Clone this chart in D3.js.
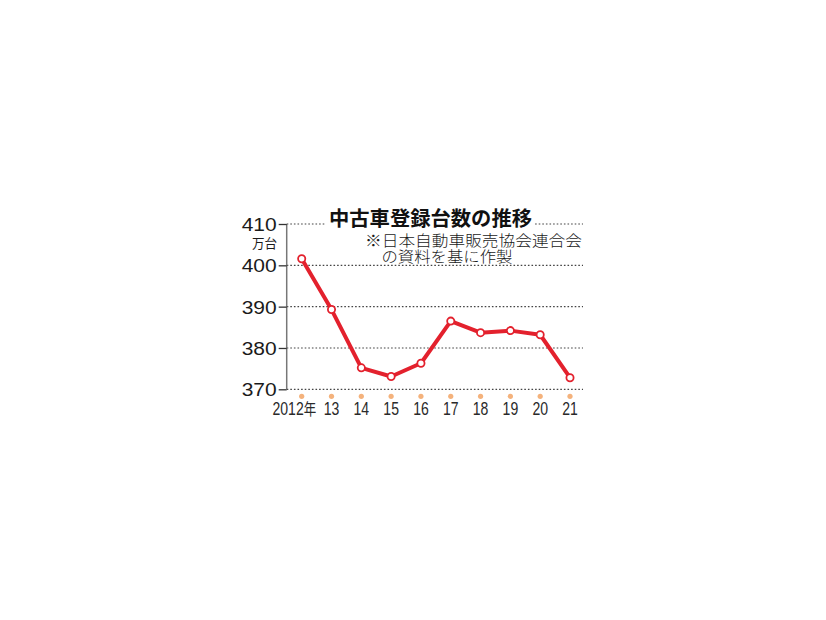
<!DOCTYPE html>
<html><head><meta charset="utf-8">
<script src="https://cdn.jsdelivr.net/npm/d3@7"></script>
<style>body{margin:0;background:#fff;}svg{display:block;}</style>
</head><body>
<svg id="c" width="826" height="620"></svg>
<script>
const years = ["2012年","13","14","15","16","17","18","19","20","21"];
const values = [401.6, 389.3, 375.2, 373.1, 376.3, 386.5, 383.7, 384.2, 383.2, 372.8];
const yTicks = [370, 380, 390, 400, 410];
const titleText = "中古車登録台数の推移";
const unitText = "万台";
const noteLines = ["※日本自動車販売協会連合会", "の資料を基に作製"];

const svg = d3.select("#c");
const x = d3.scalePoint().domain(years).range([301.7, 570]);
const y = d3.scaleLinear().domain([370, 410]).range([389.3, 224]);
const gridRight = 583, axisX = 286.7;

// gridlines
svg.append("g").selectAll("line").data(yTicks).join("line")
  .attr("x1", axisX).attr("x2", gridRight)
  .attr("y1", d => y(d)).attr("y2", d => y(d))
  .attr("stroke", "#444").attr("stroke-width", 1.2).attr("stroke-dasharray", "1.6,2");

// y axis
const yAxis = d3.axisLeft(y).tickValues(yTicks).tickSize(8).tickPadding(2).tickFormat(d3.format("d"));
const ga = svg.append("g").attr("transform", `translate(${axisX},0)`).call(yAxis);
ga.select(".domain").attr("stroke", "#777").attr("stroke-width", 1.5).attr("d", `M0,${y(410)}V${y(370)}`);
ga.selectAll(".tick line").attr("stroke", "#333").attr("stroke-width", 1.3);
ga.selectAll(".tick text").attr("fill", "#1a1a1a")
  .style("font-family", "'Liberation Sans', Arial, sans-serif").style("font-size", "18px")
  .attr("textLength", 35).attr("lengthAdjust", "spacingAndGlyphs").attr("dy", "0.36em");

// unit
svg.append("text").attr("x", 277).attr("y", 248).attr("text-anchor", "end")
  .attr("textLength", 25).attr("lengthAdjust", "spacingAndGlyphs")
  .style("font-family", "'Noto Sans CJK JP', sans-serif").style("font-size", "13px").attr("fill", "#1a1a1a")
  .text(unitText);

// x axis orange dots
svg.append("g").selectAll("circle").data(years).join("circle")
  .attr("cx", d => x(d)).attr("cy", 396.3).attr("r", 2.6).attr("fill", "#f4b27c");

// x labels: one text per year, digits + optional 年 suffix as tspans, condensed horizontally
const xt = svg.append("g").selectAll("text").data(years).join("text")
  .attr("transform", d => `translate(${x(d) + (d.endsWith("年") ? 14.5 : 0)},414.5) scale(0.78,1)`)
  .attr("text-anchor", d => d.endsWith("年") ? "end" : "middle")
  .style("font-family", "'Liberation Sans', Arial, sans-serif").style("font-size", "18px")
  .attr("fill", "#2a2a2a");
xt.append("tspan").text(d => d.replace("年", ""));
xt.filter(d => d.endsWith("年")).append("tspan")
  .style("font-family", "'Noto Sans CJK JP', sans-serif").style("font-size", "16px").text("年");

// line
const line = d3.line().x((d, i) => x(years[i])).y(d => y(d));
svg.append("path").datum(values).attr("d", line)
  .attr("fill", "none").attr("stroke", "#e3212d").attr("stroke-width", 4).attr("stroke-linejoin", "round");

svg.append("g").selectAll("circle").data(values).join("circle")
  .attr("cx", (d, i) => x(years[i])).attr("cy", d => y(d)).attr("r", 3.6)
  .attr("fill", "#fff").attr("stroke", "#e3212d").attr("stroke-width", 1.8);

// title with white background
svg.append("rect").attr("x", 326).attr("y", 206).attr("width", 209).attr("height", 24).attr("fill", "#fff");
svg.append("text").attr("x", 329).attr("y", 225.5)
  .attr("textLength", 203).attr("lengthAdjust", "spacingAndGlyphs")
  .style("font-family", "'Noto Sans CJK JP', sans-serif").style("font-size", "20px").style("font-weight", "bold")
  .attr("fill", "#111").text(titleText);

// note
svg.append("text").attr("x", 365).attr("y", 245.5)
  .attr("textLength", 217).attr("lengthAdjust", "spacingAndGlyphs")
  .style("font-family", "'Noto Sans CJK JP', sans-serif").style("font-size", "15px").style("font-weight", "300")
  .attr("fill", "#1a1a1a").text(noteLines[0]);
svg.append("text").attr("x", 381.5).attr("y", 261.5)
  .attr("textLength", 131).attr("lengthAdjust", "spacingAndGlyphs")
  .style("font-family", "'Noto Sans CJK JP', sans-serif").style("font-size", "15px").style("font-weight", "300")
  .attr("fill", "#1a1a1a").text(noteLines[1]);
</script>
</body></html>
